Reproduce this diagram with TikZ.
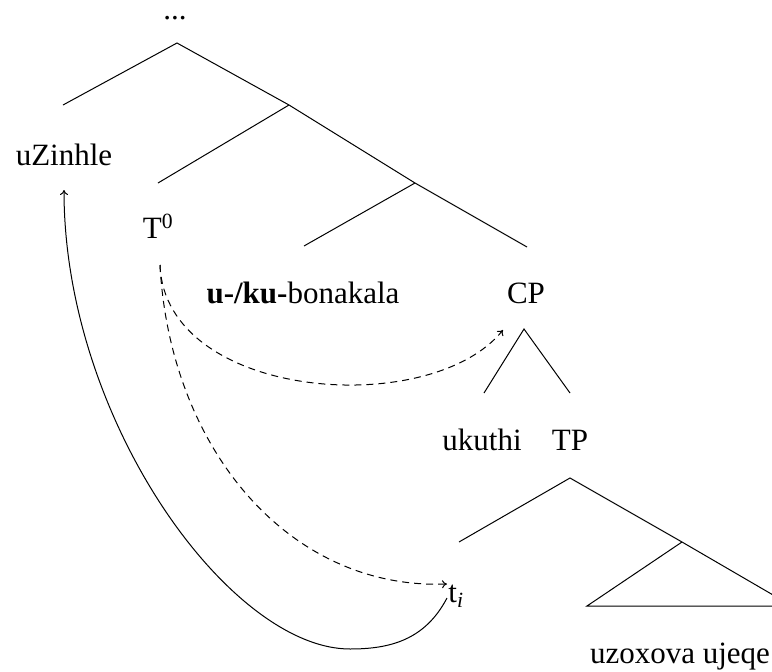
\documentclass[tikz,border=0pt]{standalone}
\usepackage{fontspec}
\setmainfont{Liberation Serif}
\usetikzlibrary{arrows.meta}
\tikzset{
  lbl/.style={inner sep=0pt, anchor=base, font=\fontsize{31}{37}\selectfont},
  edge/.style={line width=1pt},
  mv/.style={line width=1pt, -{To[length=5pt,width=8pt]}},
  dmv/.style={mv, dash pattern=on 7pt off 5pt}
}
\begin{document}
\begin{tikzpicture}[x=1pt,y=-1pt]
\useasboundingbox (0,0) rectangle (772,672);
% labels
\node[lbl, text height=4pt] (dots) at (175,19) {...};
\node[lbl] (uz) at (64,165) {uZinhle};
\node[lbl] (t0) at (158,238) {T\textsuperscript{0}};
\node[lbl] (bon) at (303,303) {\textbf{u-/ku-}bonakala};
\node[lbl] (cp) at (526,303) {CP};
\node[lbl] (uk) at (482,450) {ukuthi};
\node[lbl] (tp) at (570,450) {TP};
\node[lbl] (ti) at (456,602) {t\textsubscript{\textit{i}}};
\node[lbl] (uzo) at (680,663) {uzoxova ujeqe};
% tree coordinates
\coordinate (r) at (177,43);
\coordinate (rl) at (63,105);
\coordinate (a) at (289,105);
\coordinate (al) at (158,183);
\coordinate (b) at (415,183);
\coordinate (bl) at (304,246);
\coordinate (br) at (527,247);
\coordinate (c) at (524,329);
\coordinate (cl) at (484,393);
\coordinate (cr) at (570,393);
\coordinate (d) at (570,478);
\coordinate (dl) at (459,542);
\coordinate (e) at (682,542);
\coordinate (er) at (792,606);
\coordinate (el) at (587,606);
\draw[edge] (rl) -- (r) -- (a) -- (b) -- (br);
\draw[edge] (a) -- (al);
\draw[edge] (b) -- (bl);
\draw[edge] (cl) -- (c) -- (cr);
\draw[edge] (dl) -- (d) -- (e) -- (er) -- (el) -- (e);
% movement arrows
\coordinate (t0s) at (160,265);
\coordinate (cpe) at (503,330);
\coordinate (tie) at (447,584);
\coordinate (tis) at (447,598);
\coordinate (bot) at (350,649);
\coordinate (uze) at (64,190);
\draw[dmv] (t0s) .. controls (165,400) and (430,420) .. (cpe);
\draw[dmv] (t0s) .. controls (170,450) and (290,590) .. (tie);
\draw[mv] (tis) .. controls (425,640) and (390,649) .. (bot)
  .. controls (230,649) and (64,420) .. (uze);
\end{tikzpicture}
\end{document}
